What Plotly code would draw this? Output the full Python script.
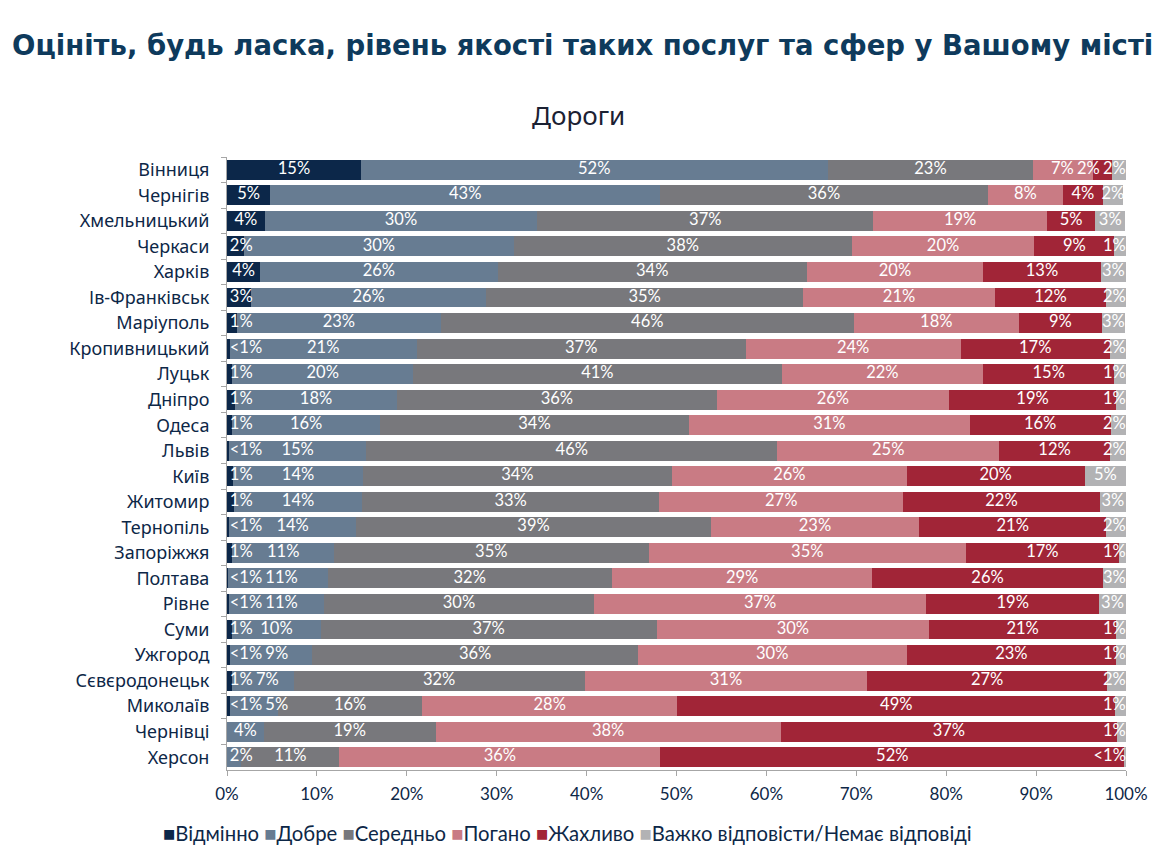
import plotly.graph_objects as go

cities = ["Вінниця", "Чернігів", "Хмельницький", "Черкаси", "Харків", "Ів-Франківськ",
          "Маріуполь", "Кропивницький", "Луцьк", "Дніпро", "Одеса", "Львів", "Київ",
          "Житомир", "Тернопіль", "Запоріжжя", "Полтава", "Рівне", "Суми", "Ужгород",
          "Сєвєродонецьк", "Миколаїв", "Чернівці", "Херсон"]

excellent = [14.9, 4.8, 4.2, 1.9, 3.7, 2.7, 1.1, 0.3, 0.6, 0.9, 0.6, 0.2, 0.7, 0.8, 0.2, 0.6, 0.1, 0.2, 0.6, 0.3, 0.6, 0.3, 0.0, 0.0]
good      = [51.9, 43.4, 30.3, 30.0, 26.4, 26.1, 22.7, 20.8, 20.1, 18.0, 16.4, 15.3, 14.4, 14.2, 14.2, 11.3, 11.1, 10.6, 9.8, 9.2, 6.8, 5.4, 4.1, 1.6]
average   = [22.9, 36.4, 37.4, 37.6, 34.4, 35.3, 45.9, 36.6, 41.0, 35.6, 34.4, 45.7, 34.4, 33.1, 39.4, 35.0, 31.6, 30.0, 37.4, 36.2, 32.4, 16.0, 19.1, 10.9]
bad       = [6.6, 8.4, 19.3, 20.3, 19.6, 21.3, 18.4, 23.9, 22.4, 25.8, 31.2, 24.7, 26.1, 27.1, 23.2, 35.3, 29.0, 37.0, 30.3, 29.9, 31.4, 28.4, 38.4, 35.7]
terrible  = [2.1, 4.4, 5.4, 8.9, 13.1, 12.4, 9.2, 16.6, 14.6, 18.6, 15.7, 12.3, 19.8, 21.9, 20.8, 17.0, 25.6, 19.2, 20.8, 23.3, 26.7, 48.7, 37.4, 51.6]
no_answer = [1.6, 2.3, 3.3, 1.3, 2.8, 2.2, 2.6, 1.8, 1.3, 1.1, 1.7, 1.8, 4.6, 2.9, 2.2, 0.8, 2.6, 3.0, 1.1, 1.1, 2.1, 1.2, 1.0, 0.2]

series_names = ["Відмінно", "Добре", "Середньо", "Погано", "Жахливо",
                "Важко відповісти/Немає відповіді"]
series_values = [excellent, good, average, bad, terrible, no_answer]
colors = ["#0c2749", "#677c92", "#78787c", "#c97b84", "#a12537", "#b2b2b4"]

x_ticks = [0, 10, 20, 30, 40, 50, 60, 70, 80, 90, 100]
x_tick_labels = [f"{t}%" for t in x_ticks]

PX_PER_UNIT = 904 / 100  # plotting-area px per percentage point
GAP = 3 / PX_PER_UNIT


def label(v):
    if v <= 0:
        return ""
    if v < 0.5:
        return "<1%"
    return f"{int(v + 0.5)}%"


def half_width_units(t):
    px = 9.7 * sum(ch.isdigit() for ch in t) + 13.5 * t.count("%") + 9.5 * t.count("<")
    return px / 2 / PX_PER_UNIT


# label text and positions (segment centres, nudged so neighbours don't collide)
texts = [[label(v) for v in vals] for vals in series_values]
positions = [[0.0] * len(cities) for _ in series_values]
for r in range(len(cities)):
    cum = 0.0
    items = []
    for s, vals in enumerate(series_values):
        v = vals[r]
        t = texts[s][r]
        if t:
            items.append([s, cum + v / 2, half_width_units(t)])
        cum += v
    limit = 0.3
    for it in items:
        it[1] = max(it[1], limit + it[2])
        limit = it[1] + it[2] + GAP
    limit = 100.0
    for it in reversed(items):
        it[1] = min(it[1], limit - it[2])
        limit = it[1] - it[2] - GAP
    for s, p, _ in items:
        positions[s][r] = p

NAVY = "#0d2747"
fig = go.Figure()
for name, vals, col in zip(series_names, series_values, colors):
    fig.add_trace(go.Bar(
        y=cities, x=vals, name=name, orientation="h",
        marker=dict(color=col, line=dict(width=0)),
        hoverinfo="skip", showlegend=False,
    ))
for s in range(len(series_values)):
    fig.add_trace(go.Scatter(
        y=cities, x=positions[s], mode="text", text=texts[s],
        textposition="middle center", cliponaxis=False,
        textfont=dict(family="Lato", size=16.5, color="white"),
        hoverinfo="skip", showlegend=False,
    ))

legend_text = " ".join(
    f"<span style='color:{c}'>■</span>{n}" for n, c in zip(series_names, colors))

fig.update_layout(
    barmode="stack", bargap=0.22,
    width=1160, height=862,
    margin=dict(l=227, r=29, t=157, b=92),
    paper_bgcolor="white", plot_bgcolor="white",
    showlegend=False,
    title=dict(text="Оцініть, будь ласка, рівень якості таких послуг та сфер у Вашому місті",
               x=12 / 1160, xanchor="left", xref="container",
               y=1 - 45 / 862, yanchor="middle", yref="container",
               font=dict(family="DejaVu Sans", size=27.5, color="#0e3a5c", weight="bold")),
    annotations=[
        dict(text="Дороги", x=(580 - 227) / 904, xref="paper", xanchor="center",
             y=(770 - 115) / 613, yref="paper", yanchor="middle", showarrow=False,
             font=dict(family="Noto Sans", size=26, color="#1b2133")),
        dict(text=legend_text, x=(569 - 227) / 904, xref="paper", xanchor="center",
             y=(770 - 833) / 613, yref="paper", yanchor="middle", showarrow=False,
             font=dict(family="Lato", size=20.3, color=NAVY)),
    ],
)

fig.update_xaxes(range=[0, 100], tickvals=x_ticks, ticktext=x_tick_labels,
                 showgrid=False, zeroline=False, showline=True,
                 linecolor="#a6a6a6", linewidth=1,
                 ticks="outside", ticklen=5, tickcolor="#a6a6a6",
                 ticklabelstandoff=4,
                 tickfont=dict(family="Lato", size=17, color=NAVY))
fig.update_yaxes(range=[len(cities) - 0.5, -0.5], autorange=False,
                 showgrid=False, showline=True,
                 linecolor="#a6a6a6", linewidth=1,
                 ticks="outside", ticklen=5, tickcolor="#a6a6a6",
                 tickson="boundaries", ticklabelstandoff=13,
                 tickfont=dict(family="Noto Sans", size=18, color=NAVY))

fig.write_html("out.html")
